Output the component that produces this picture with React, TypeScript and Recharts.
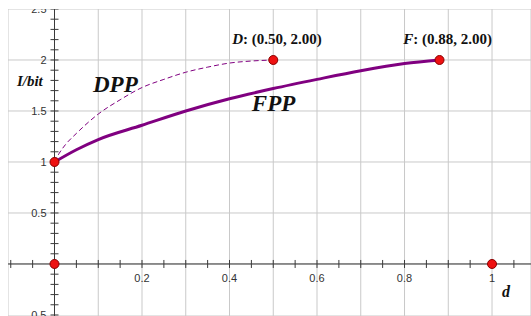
import React from 'react';
import { ComposedChart, CartesianGrid, Line, Scatter, XAxis, YAxis } from 'recharts';

// DPP curve (dashed)
const dppD = [0, 0.01, 0.025, 0.05, 0.1, 0.15, 0.2, 0.25, 0.3, 0.35, 0.4, 0.45, 0.5];
const dppI = [1, 1.08, 1.17, 1.28, 1.47, 1.61, 1.73, 1.81, 1.88, 1.93, 1.97, 1.99, 2];

// FPP curve (thick)
const fppD = [0, 0.05, 0.1, 0.2, 0.3, 0.4, 0.5, 0.6, 0.7, 0.8, 0.88];
const fppI = [1, 1.12, 1.22, 1.36, 1.5, 1.62, 1.72, 1.81, 1.895, 1.965, 2];

// red points
const pointD = [0, 0.5, 0.88, 0, 1];
const pointI = [1, 2, 2, 0, 0];

// axes, grid, ticks
const xDomain = [-0.1063, 1.0891];
const yDomain = [-0.51, 2.5];
const gridX = [-0.1, 0, 0.1, 0.2, 0.3, 0.4, 0.5, 0.6, 0.7, 0.8, 0.9, 1];
const gridY = [-0.5, 0, 0.5, 1, 1.5, 2, 2.5];
const xMinorTicks = [-0.1, -0.05, 0.05, 0.1, 0.15, 0.2, 0.25, 0.3, 0.35, 0.4, 0.45, 0.5, 0.55, 0.6, 0.65, 0.7, 0.75, 0.8, 0.85, 0.9, 0.95, 1, 1.05];
const yMinorTicks = [-0.5, -0.4, -0.3, -0.2, -0.1, 0.1, 0.2, 0.3, 0.4, 0.5, 0.6, 0.7, 0.8, 0.9, 1, 1.1, 1.2, 1.3, 1.4, 1.5, 1.6, 1.7, 1.8, 1.9, 2, 2.1, 2.2, 2.3, 2.4, 2.5];
const xTickLabels = ['0.2', '0.4', '0.6', '0.8', '1'];
const yTickLabels = ['-0.5', '0.5', '1', '1.5', '2', '2.5'];

// annotation texts
const noteText = [
  { lead: 'D', rest: ': (0.50, 2.00)' },
  { lead: 'F', rest: ': (0.88, 2.00)' },
  { lead: 'DPP', rest: '' },
  { lead: 'FPP', rest: '' },
  { lead: 'I/bit', rest: '' },
  { lead: 'd', rest: '' },
];
// where each annotation sits (data coords) and its size
const noteLayout = [
  { x: 0.406, y: 2.157, size: 15 },
  { x: 0.797, y: 2.157, size: 15 },
  { x: 0.088, y: 1.686, size: 23 },
  { x: 0.451, y: 1.5, size: 23 },
  { x: -0.086, y: 1.745, size: 15 },
  { x: 1.023, y: -0.324, size: 16 },
];

const dppData = dppD.map((d, i) => ({ x: d, y: dppI[i] }));
const fppData = fppD.map((d, i) => ({ x: d, y: fppI[i] }));
const pointData = pointD.map((d, i) => ({ x: d, y: pointI[i] }));
const xAxisLine = [{ x: xDomain[0], y: 0 }, { x: xDomain[1], y: 0 }];
const yAxisLine = [{ x: 0, y: yDomain[0] }, { x: 0, y: yDomain[1] }];
const xTickData = xMinorTicks.map((v) => ({ x: v, y: 0 }));
const yTickData = yMinorTicks.map((v) => ({ x: 0, y: v }));
const xLabelData = xTickLabels.map((t) => ({ x: Number(t), y: 0, text: t }));
const yLabelData = yTickLabels.map((t) => ({ x: 0, y: Number(t), text: t }));
const noteData = noteText.map((n, i) => ({ ...n, ...noteLayout[i] }));

const AXIS = '#3a3a3a';
const PURPLE = '#800080';
const sans = '"Liberation Sans", Arial, sans-serif';
const serif = '"Liberation Serif", "Times New Roman", serif';

export default function App() {
  return (
    <div style={{ position: 'absolute', left: 8, top: 9 }}>
      <ComposedChart width={523} height={307} margin={{ top: 0, right: 0, bottom: 0, left: 0 }}>
        <XAxis type="number" dataKey="x" domain={xDomain} ticks={gridX} allowDataOverflow hide />
        <YAxis type="number" dataKey="y" domain={yDomain} ticks={gridY} allowDataOverflow hide />
        <CartesianGrid stroke="#c9c9c9" strokeWidth={1} />
        <Line data={xAxisLine} dataKey="y" stroke={AXIS} strokeWidth={1} dot={false} isAnimationActive={false} />
        <Line data={yAxisLine} dataKey="y" stroke={AXIS} strokeWidth={1} dot={false} isAnimationActive={false} />
        <Scatter
          data={xTickData}
          isAnimationActive={false}
          shape={(p: any) => <line x1={p.cx} x2={p.cx} y1={p.cy - 4} y2={p.cy + 4} stroke={AXIS} strokeWidth={1} />}
        />
        <Scatter
          data={yTickData}
          isAnimationActive={false}
          shape={(p: any) => <line x1={p.cx - 4} x2={p.cx + 4} y1={p.cy} y2={p.cy} stroke={AXIS} strokeWidth={1} />}
        />
        <Scatter
          data={xLabelData}
          isAnimationActive={false}
          shape={(p: any) => (
            <text x={p.cx} y={p.cy + 18} textAnchor="middle" fontFamily={sans} fontSize={11} fill="#333">
              {p.payload.text}
            </text>
          )}
        />
        <Scatter
          data={yLabelData}
          isAnimationActive={false}
          shape={(p: any) => (
            <text x={p.cx - 8} y={p.cy + 4} textAnchor="end" fontFamily={sans} fontSize={11} fill="#333">
              {p.payload.text}
            </text>
          )}
        />
        <Line
          data={dppData}
          dataKey="y"
          type="monotone"
          stroke={PURPLE}
          strokeWidth={1}
          strokeDasharray="5 3"
          dot={false}
          isAnimationActive={false}
        />
        <Line
          data={fppData}
          dataKey="y"
          type="monotone"
          stroke={PURPLE}
          strokeWidth={3}
          dot={false}
          isAnimationActive={false}
        />
        <Scatter
          data={pointData}
          isAnimationActive={false}
          shape={(p: any) => <circle cx={p.cx} cy={p.cy} r={4.5} fill="#ee1111" stroke="#8a0000" strokeWidth={1} />}
        />
        <Scatter
          data={noteData}
          isAnimationActive={false}
          shape={(p: any) => (
            <text x={p.cx} y={p.cy} fontFamily={serif} fontWeight="bold" fontSize={p.payload.size} fill="#111">
              <tspan fontStyle="italic">{p.payload.lead}</tspan>
              {p.payload.rest ? <tspan>{p.payload.rest}</tspan> : null}
            </text>
          )}
        />
      </ComposedChart>
    </div>
  );
}
